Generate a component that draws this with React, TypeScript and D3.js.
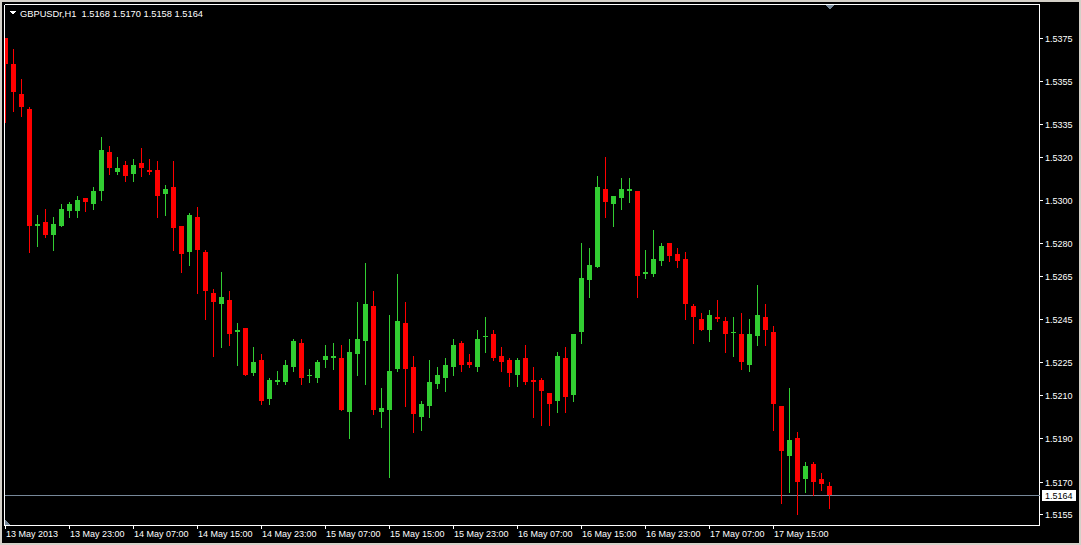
import React from 'react';
import * as d3 from 'd3';

const symbolTitle = 'GBPUSDr,H1';

const opens = [
  1.5375, 1.5363, 1.5349, 1.5342, 1.5288, 1.5290, 1.5284, 1.5288, 1.5295, 1.5295,
  1.5301, 1.5298, 1.5304, 1.5322, 1.5313, 1.5316, 1.5312, 1.5317, 1.5314, 1.5314,
  1.5303, 1.5306, 1.5288, 1.5276, 1.5292, 1.5276, 1.5257, 1.5252, 1.5254, 1.5239,
  1.5241, 1.5220, 1.5226, 1.5208, 1.5216, 1.5216, 1.5223, 1.5234, 1.5219, 1.5218,
  1.5226, 1.5227, 1.5227, 1.5202, 1.5229, 1.5235, 1.5251, 1.5202, 1.5203, 1.5222,
  1.5243, 1.5223, 1.5200, 1.5205, 1.5215, 1.5218, 1.5223, 1.5234, 1.5225, 1.5223,
  1.5237, 1.5238, 1.5228, 1.5226, 1.5219, 1.5227, 1.5217, 1.5217, 1.5211, 1.5207,
  1.5227, 1.5210, 1.5239, 1.5263, 1.5269, 1.5305, 1.5298, 1.5301, 1.5304, 1.5304,
  1.5266, 1.5266, 1.5272, 1.5280, 1.5275, 1.5273, 1.5251, 1.5245, 1.5240, 1.5246,
  1.5244, 1.5239, 1.5238, 1.5224, 1.5237, 1.5246, 1.5239, 1.5205, 1.5182, 1.5190,
  1.5171, 1.5178, 1.5171, 1.5168,
];
const highs = [
  1.5375, 1.5370, 1.5356, 1.5343, 1.5293, 1.5296, 1.5292, 1.5298, 1.5299, 1.5302,
  1.5301, 1.5306, 1.5329, 1.5325, 1.5320, 1.5318, 1.5319, 1.5324, 1.5319, 1.5318,
  1.5307, 1.5318, 1.5288, 1.5294, 1.5297, 1.5277, 1.5259, 1.5267, 1.5258, 1.5243,
  1.5241, 1.5232, 1.5229, 1.5218, 1.5221, 1.5226, 1.5236, 1.5236, 1.5222, 1.5226,
  1.5233, 1.5234, 1.5233, 1.5236, 1.5253, 1.5271, 1.5258, 1.5213, 1.5247, 1.5266,
  1.5253, 1.5228, 1.5207, 1.5226, 1.5223, 1.5227, 1.5236, 1.5235, 1.5229, 1.5240,
  1.5246, 1.5240, 1.5232, 1.5227, 1.5227, 1.5233, 1.5223, 1.5218, 1.5211, 1.5230,
  1.5232, 1.5238, 1.5280, 1.5278, 1.5311, 1.5320, 1.5302, 1.5310, 1.5310, 1.5304,
  1.5277, 1.5286, 1.5280, 1.5280, 1.5278, 1.5276, 1.5252, 1.5248, 1.5249, 1.5254,
  1.5246, 1.5246, 1.5248, 1.5245, 1.5261, 1.5252, 1.5242, 1.5205, 1.5213, 1.5193,
  1.5179, 1.5179, 1.5174, 1.5170,
];
const lows = [
  1.5336, 1.5341, 1.5339, 1.5276, 1.5279, 1.5283, 1.5277, 1.5288, 1.5292, 1.5292,
  1.5295, 1.5296, 1.5300, 1.5312, 1.5312, 1.5309, 1.5309, 1.5311, 1.5312, 1.5292,
  1.5293, 1.5277, 1.5267, 1.5270, 1.5257, 1.5245, 1.5228, 1.5232, 1.5233, 1.5224,
  1.5219, 1.5219, 1.5206, 1.5206, 1.5215, 1.5215, 1.5221, 1.5215, 1.5216, 1.5216,
  1.5223, 1.5222, 1.5203, 1.5190, 1.5219, 1.5215, 1.5201, 1.5195, 1.5172, 1.5221,
  1.5205, 1.5193, 1.5194, 1.5200, 1.5213, 1.5212, 1.5219, 1.5221, 1.5223, 1.5221,
  1.5230, 1.5226, 1.5221, 1.5214, 1.5214, 1.5215, 1.5200, 1.5196, 1.5196, 1.5202,
  1.5202, 1.5207, 1.5234, 1.5255, 1.5269, 1.5292, 1.5288, 1.5296, 1.5299, 1.5255,
  1.5264, 1.5265, 1.5270, 1.5272, 1.5269, 1.5245, 1.5234, 1.5240, 1.5235, 1.5244,
  1.5230, 1.5228, 1.5222, 1.5221, 1.5233, 1.5233, 1.5194, 1.5160, 1.5165, 1.5155,
  1.5165, 1.5164, 1.5166, 1.5158,
];
const closes = [
  1.5363, 1.5350, 1.5343, 1.5288, 1.5289, 1.5284, 1.5289, 1.5296, 1.5298, 1.5300,
  1.5299, 1.5304, 1.5323, 1.5315, 1.5315, 1.5311, 1.5316, 1.5315, 1.5313, 1.5302,
  1.5305, 1.5287, 1.5275, 1.5293, 1.5277, 1.5258, 1.5253, 1.5255, 1.5238, 1.5240,
  1.5219, 1.5225, 1.5207, 1.5217, 1.5217, 1.5224, 1.5235, 1.5218, 1.5219, 1.5225,
  1.5228, 1.5228, 1.5203, 1.5230, 1.5236, 1.5252, 1.5203, 1.5204, 1.5221, 1.5244,
  1.5222, 1.5201, 1.5206, 1.5216, 1.5219, 1.5224, 1.5233, 1.5224, 1.5224, 1.5236,
  1.5237, 1.5227, 1.5225, 1.5220, 1.5226, 1.5216, 1.5216, 1.5212, 1.5206, 1.5228,
  1.5209, 1.5238, 1.5264, 1.5270, 1.5306, 1.5299, 1.5302, 1.5305, 1.5305, 1.5265,
  1.5267, 1.5273, 1.5279, 1.5274, 1.5272, 1.5252, 1.5246, 1.5240, 1.5247, 1.5245,
  1.5238, 1.5239, 1.5225, 1.5238, 1.5247, 1.5240, 1.5206, 1.5184, 1.5189, 1.5170,
  1.5177, 1.5170, 1.5169, 1.5164,
];

const priceTicks = [
  1.5375, 1.5355, 1.5335, 1.532, 1.53, 1.528, 1.5265, 1.5245, 1.5225, 1.521, 1.519, 1.517, 1.5155,
];
const timeLabels = [
  '13 May 2013', '13 May 23:00', '14 May 07:00', '14 May 15:00', '14 May 23:00',
  '15 May 07:00', '15 May 15:00', '15 May 23:00', '16 May 07:00', '16 May 15:00',
  '16 May 23:00', '17 May 07:00', '17 May 15:00',
];
const timeLabelBars = [0, 8, 16, 24, 32, 40, 48, 56, 64, 72, 80, 88, 96];

const W = 1081;
const H = 545;
const plotLeft = 4.5;
const plotTop = 4.5;
const plotRight = 1039.5;
const plotBottom = 525.5;
const BULL = '#32CD32';
const BEAR = '#FF0000';
const FONT = '"Liberation Sans", Arial, sans-serif';

export default function App() {
  const n = closes.length;
  const last = n - 1;
  const x = d3.scaleLinear().domain([0, last]).range([5.5, 5.5 + 8 * last]);
  const y = d3.scaleLinear().domain([1.5155, 1.5375]).range([514, 37.7]);
  const f4 = d3.format('.4f');
  const lastPrice = closes[last];
  const yLast = Math.round(y(lastPrice)) + 0.5;

  const candles = d3.range(n).map((i) => {
    const o = opens[i];
    const c = closes[i];
    const bull = c >= o;
    const color = bull ? BULL : BEAR;
    const cx = x(i);
    const yTop = Math.round(y(Math.max(o, c)));
    const yBot = Math.round(y(Math.min(o, c)));
    const yHi = Math.round(y(highs[i]));
    const yLo = Math.round(y(lows[i]));
    return (
      <g key={i}>
        <rect x={cx - 0.5} y={yHi} width={1} height={yLo - yHi + 1} fill={color} />
        <rect x={cx - 2.5} y={yTop} width={5} height={Math.max(1, yBot - yTop + (yBot > yTop ? 0 : 1))} fill={color} />
      </g>
    );
  });

  return (
    <svg
      width={W}
      height={H}
      style={{ position: 'absolute', left: 0, top: 0, display: 'block' }}
      shapeRendering="crispEdges"
    >
      <defs>
        <clipPath id="plotClip">
          <rect x={5} y={5} width={plotRight - 5} height={plotBottom - 5} />
        </clipPath>
      </defs>
      <rect x={0} y={0} width={W} height={H} fill="#d4d0c8" />
      <rect x={2} y={2} width={W - 4} height={H - 4} fill="#000000" />
      {/* plot frame */}
      <line x1={plotLeft} y1={plotTop} x2={plotRight} y2={plotTop} stroke="#ffffff" />
      <line x1={plotLeft} y1={plotTop} x2={plotLeft} y2={plotBottom} stroke="#ffffff" />
      <line x1={plotRight} y1={plotTop} x2={plotRight} y2={plotBottom} stroke="#ffffff" />
      <line x1={plotLeft} y1={plotBottom} x2={plotRight} y2={plotBottom} stroke="#ffffff" />

      {/* current price line */}
      <line x1={5} y1={yLast} x2={plotRight} y2={yLast} stroke="#778899" />

      <g clipPath="url(#plotClip)">{candles}</g>

      {/* header */}
      <polygon points="9,11 16,11 12.5,14.5" fill="#ffffff" />
      <text x={20} y={16.5} fill="#ffffff" fontFamily={FONT} fontSize={9.3} shapeRendering="auto" style={{ whiteSpace: 'pre' }}>
        {`${symbolTitle}  ${f4(opens[last])} ${f4(highs[last])} ${f4(lows[last])} ${f4(closes[last])}`}
      </text>

      {/* chart shift marker */}
      <polygon points={`${x(last) - 4},5 ${x(last) + 5},5 ${x(last) + 0.5},9.5`} fill="#778899" />
      <polygon points="5,520 5,525 10,525" fill="#778899" />

      {/* price axis */}
      {priceTicks.map((p) => {
        const ty = Math.round(y(p)) + 0.5;
        return (
          <g key={p}>
            <line x1={plotRight} y1={ty} x2={1043} y2={ty} stroke="#ffffff" />
            <text x={1045} y={ty + 3} fill="#ffffff" fontFamily={FONT} fontSize={9} shapeRendering="auto">
              {f4(p)}
            </text>
          </g>
        );
      })}
      <rect x={1042} y={yLast - 6} width={34} height={11} fill="#ffffff" />
      <text x={1045} y={yLast + 3} fill="#000000" fontFamily={FONT} fontSize={9} shapeRendering="auto">
        {f4(lastPrice)}
      </text>

      {/* time axis */}
      {timeLabels.map((lab, j) => {
        const tx = Math.floor(x(timeLabelBars[j])) + 0.5;
        return (
          <g key={lab}>
            <line x1={tx} y1={plotBottom} x2={tx} y2={529} stroke="#ffffff" />
            <text x={tx + 0.5} y={537} fill="#ffffff" fontFamily={FONT} fontSize={9} shapeRendering="auto">
              {lab}
            </text>
          </g>
        );
      })}
    </svg>
  );
}
